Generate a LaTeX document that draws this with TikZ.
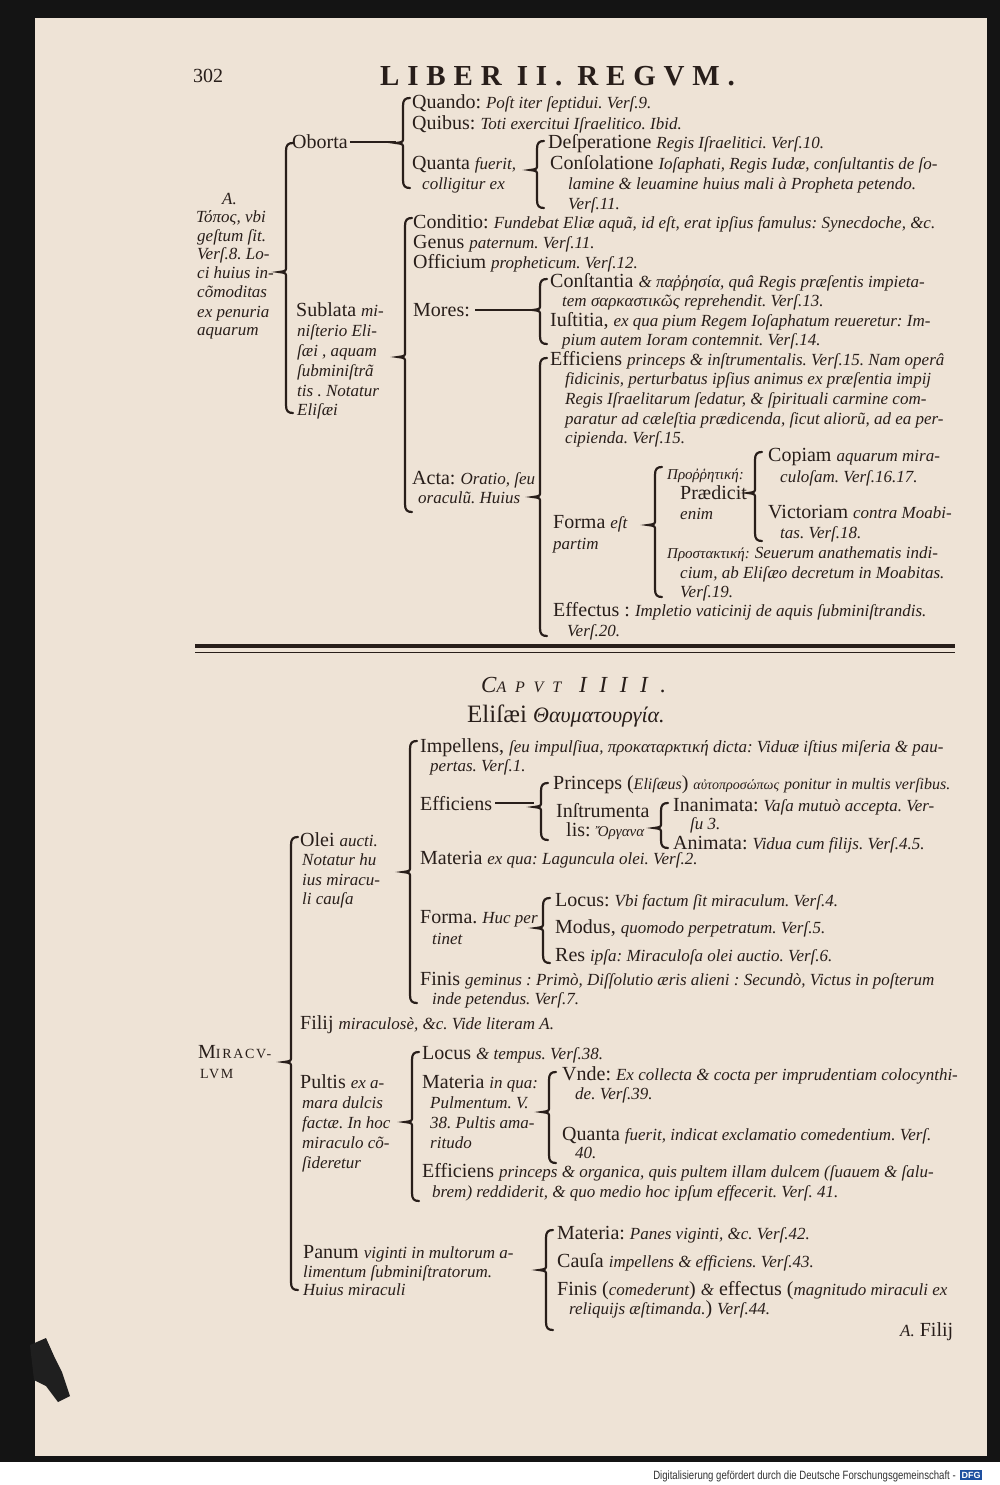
\documentclass[tikz,border=0pt]{standalone}
\usepackage{fontspec}
\setmainfont{Liberation Serif}
\newfontfamily\sansf{Liberation Sans}
\usepackage{graphicx}
\definecolor{paper}{RGB}{238,227,214}
\definecolor{ink}{RGB}{40,30,26}
\definecolor{dfgblue}{RGB}{30,80,160}
\tikzset{
  txt/.style={anchor=base west, inner sep=0pt, text=ink, font=\fontsize{20}{22}\selectfont},
  brc/.style={draw=ink, line width=2.2pt, line cap=round},
  dashl/.style={draw=ink, line width=2pt}
}
\newcommand\itx[1]{{\fontsize{17}{20}\selectfont\itshape #1}}
\newcommand\tline[4]{\node[txt] (#1) at (#2,#3+6) {#4};}
\newcommand\bracefig[5]{%
  \draw[brc] (#2+7,#3) .. controls (#2+2,#3) and (#2,#3+2) .. (#2,#3+8) -- (#2,#4-5) .. controls (#2,#4-1) .. (#2-7,#4) .. controls (#2,#4+1) .. (#2,#4+5) -- (#2,#5-8) .. controls (#2,#5-2) and (#2+2,#5) .. (#2+7,#5);
  \coordinate (#1) at (#2-7,#4);}
\frenchspacing
\begin{document}
\frenchspacing
\begin{tikzpicture}[x=1pt,y=-1pt]
\useasboundingbox (0,0) rectangle (1000,1485);
% page
\fill[black!92] (0,0) rectangle (1000,1462);
\fill[white] (0,1462) rectangle (1000,1485);
\fill[paper] (35,18) rectangle (987,1456);
\fill[black!88] (30,1345) -- (46,1338) -- (54,1356) -- (62,1372) -- (70,1396) -- (58,1402) -- (46,1386) -- (34,1380) -- cycle;

% header
\tline{p302}{193}{77}{302}
\node[txt, font=\fontsize{29}{30}\selectfont\bfseries] (hdr) at (380,86) {\addfontfeature{LetterSpace=27}LIBER II. REGVM.};

% ---------- top section ----------
\tline{quando}{412}{103}{Quando: \itx{Poſt iter ſeptidui. Verſ.9.}}
\tline{quibus}{412}{123}{Quibus: \itx{Toti exercitui Iſraelitico. Ibid.}}
\tline{oborta}{292}{143}{Oborta}
\bracefig{bq}{403}{98}{143}{188}
\draw[dashl] ([xshift=2pt]oborta.east) -- (oborta.east -| bq);
\tline{desp}{548}{143}{Deſperatione \itx{Regis Iſraelitici. Verſ.10.}}
\tline{quanta}{412}{163}{Quanta \itx{fuerit,}}
\tline{consol}{550}{163}{Conſolatione \itx{Ioſaphati, Regis Iudæ, conſultantis de ſo-}}
\tline{collig}{422}{183}{\itx{colligitur ex}}
\tline{lamine}{568}{183}{\itx{lamine \& leuamine huius mali à Propheta petendo.}}
\tline{v11}{568}{203}{\itx{Verſ.11.}}
\bracefig{bd}{537}{141}{170}{208}

\tline{la}{222}{198}{\itx{A.}}
\tline{lb}{196}{216}{\itx{Τόπος, vbi}}
\tline{lc}{197}{235}{\itx{geſtum ſit.}}
\tline{ld}{197}{253}{\itx{Verſ.8. Lo-}}
\tline{le}{197}{272}{\itx{ci huius in-}}
\tline{lf}{197}{291}{\itx{cõmoditas}}
\tline{lg}{197}{311}{\itx{ex penuria}}
\tline{lh}{197}{329}{\itx{aquarum}}
\bracefig{ba}{286}{143}{272}{413}

\tline{sub1}{296}{310}{Sublata \itx{mi-}}
\tline{sub2}{297}{330}{\itx{niſterio Eli-}}
\tline{sub3}{297}{350}{\itx{ſæi , aquam}}
\tline{sub4}{297}{370}{\itx{ſubminiſtrã}}
\tline{sub5}{297}{390}{\itx{tis . Notatur}}
\tline{sub6}{297}{409}{\itx{Eliſæi}}
\bracefig{bs}{405}{218}{357}{512}

\tline{cond}{413}{222}{Conditio: \itx{Fundebat Eliæ aquã, id eſt, erat ipſius famulus: Synecdoche, \&c.}}
\tline{genus}{413}{242}{Genus \itx{paternum. Verſ.11.}}
\tline{offic}{413}{262}{Officium \itx{propheticum. Verſ.12.}}
\tline{mores}{413}{310}{Mores:}
\bracefig{bm}{540}{279}{310}{344}
\draw[dashl] ([xshift=5pt]mores.east) -- (mores.east -| bm);
\tline{const1}{550}{281}{Conſtantia \itx{\& παῤῥησία, quâ Regis præſentis impieta-}}
\tline{const2}{562}{300}{\itx{tem σαρκαστικῶς reprehendit. Verſ.13.}}
\tline{iust1}{550}{320}{Iuſtitia, \itx{ex qua pium Regem Ioſaphatum reueretur: Im-}}
\tline{iust2}{562}{339}{\itx{pium autem Ioram contemnit. Verſ.14.}}

\tline{acta1}{412}{478}{Acta: \itx{Oratio, ſeu}}
\tline{acta2}{418}{497}{\itx{oraculũ. Huius}}
\bracefig{bac}{540}{358}{497}{636}
\tline{eff1}{550}{359}{Efficiens \itx{princeps \& inſtrumentalis. Verſ.15. Nam operâ}}
\tline{eff2}{565}{378}{\itx{fidicinis, perturbatus ipſius animus ex præſentia impij}}
\tline{eff3}{565}{398}{\itx{Regis Iſraelitarum ſedatur, \& ſpirituali carmine com-}}
\tline{eff4}{565}{418}{\itx{paratur ad cæleſtia prædicenda, ſicut aliorũ, ad ea per-}}
\tline{eff5}{565}{437}{\itx{cipienda. Verſ.15.}}
\tline{forma1}{553}{522}{Forma \itx{eſt}}
\tline{forma2}{553}{543}{\itx{partim}}
\bracefig{bf}{655}{467}{525}{597}
\tline{pro1}{667}{473}{{\fontsize{15}{18}\selectfont\itshape Προῤῥητική:}}
\tline{pro2}{680}{493}{Prædicit}
\tline{pro3}{680}{513}{\itx{enim}}
\bracefig{bp}{755}{452}{493}{541}
\tline{cop1}{768}{455}{Copiam \itx{aquarum mira-}}
\tline{cop2}{780}{476}{\itx{culoſam. Verſ.16.17.}}
\tline{vic1}{768}{512}{Victoriam \itx{contra Moabi-}}
\tline{vic2}{780}{532}{\itx{tas. Verſ.18.}}
\tline{pros1}{667}{552}{{\fontsize{15}{18}\selectfont\itshape Προστακτική:} \itx{Seuerum anathematis indi-}}
\tline{pros2}{680}{572}{\itx{cium, ab Eliſæo decretum in Moabitas.}}
\tline{pros3}{680}{591}{\itx{Verſ.19.}}
\tline{effc1}{553}{610}{Effectus : \itx{Impletio vaticinij de aquis ſubminiſtrandis.}}
\tline{effc2}{567}{630}{\itx{Verſ.20.}}

% rules
\coordinate (r1a) at (195,646); \coordinate (r1b) at (955,646);
\coordinate (r2a) at (195,652); \coordinate (r2b) at (955,652);
\draw[ink, line width=3.2pt] (r1a) -- (r1b);
\draw[ink, line width=1pt] (r2a) -- (r2b);

% ---------- bottom section ----------
\node[txt, font=\fontsize{23}{24}\selectfont\itshape] (caput) at (481,692) {\addfontfeature{LetterSpace=55}C{\fontsize{16}{16}\selectfont APVT}\hspace{18pt}IIII.};
\node[txt, font=\fontsize{25}{26}\selectfont] (elis) at (467,722) {Eliſæi {\fontsize{22}{24}\selectfont\itshape Θαυματουργία.}};

\tline{imp1}{420}{746}{Impellens, \itx{ſeu impulſiua, προκαταρκτική dicta: Viduæ iſtius miſeria \& pau-}}
\tline{imp2}{430}{765}{\itx{pertas. Verſ.1.}}
\tline{effi}{420}{804}{Efficiens}
\bracefig{be}{541}{783}{807}{840}
\draw[dashl] ([xshift=3pt]effi.east) -- (effi.east -| be);
\tline{princ}{553}{783}{Princeps ({\fontsize{16}{18}\selectfont\itshape Eliſæus}) {\fontsize{14}{18}\selectfont\itshape αὐτοπροσώπως} {\fontsize{16}{18}\selectfont\itshape ponitur in multis verſibus.}}
\tline{instr1}{556}{811}{Inſtrumenta}
\tline{instr2}{566}{830}{lis: {\fontsize{15}{18}\selectfont\itshape Ὄργανα}}
\bracefig{bi}{661}{803}{828}{848}
\tline{inan1}{673}{805}{Inanimata: \itx{Vaſa mutuò accepta. Ver-}}
\tline{inan2}{690}{823}{\itx{ſu 3.}}
\tline{anim}{673}{843}{Animata: \itx{Vidua cum filijs. Verſ.4.5.}}

\tline{olei1}{300}{840}{Olei \itx{aucti.}}
\tline{olei2}{302}{859}{\itx{Notatur hu}}
\tline{olei3}{302}{879}{\itx{ius miracu-}}
\tline{olei4}{302}{898}{\itx{li cauſa}}
\bracefig{bo}{410}{741}{872}{1003}
\tline{mater}{420}{858}{Materia \itx{ex qua: Laguncula olei. Verſ.2.}}
\tline{form1}{420}{917}{Forma. \itx{Huc per}}
\tline{form2}{432}{938}{\itx{tinet}}
\bracefig{bfo}{543}{898}{928}{963}
\tline{locus}{555}{900}{Locus: \itx{Vbi factum ſit miraculum. Verſ.4.}}
\tline{modus}{555}{927}{Modus, \itx{quomodo perpetratum. Verſ.5.}}
\tline{res}{555}{955}{Res \itx{ipſa: Miraculoſa olei auctio. Verſ.6.}}
\tline{finis1}{420}{979}{Finis \itx{geminus : Primò, Diſſolutio æris alieni : Secundò, Victus in poſterum}}
\tline{finis2}{432}{998}{\itx{inde petendus. Verſ.7.}}
\tline{filij}{300}{1023}{Filij \itx{miraculosè, \&c. Vide literam A.}}

\node[txt] (mir1) at (198,1058) {\addfontfeature{LetterSpace=12}M{\fontsize{14}{14}\selectfont IRACV-}};
\node[txt, font=\fontsize{14}{14}\selectfont] (mir2) at (200,1078) {\addfontfeature{LetterSpace=12}LVM};
\bracefig{bmir}{291}{837}{1062}{1290}

\tline{pul1}{300}{1082}{Pultis \itx{ex a-}}
\tline{pul2}{302}{1102}{\itx{mara dulcis}}
\tline{pul3}{302}{1122}{\itx{factæ. In hoc}}
\tline{pul4}{302}{1142}{\itx{miraculo cõ-}}
\tline{pul5}{302}{1162}{\itx{ſideretur}}
\bracefig{bpu}{412}{1052}{1122}{1201}
\tline{loct}{422}{1053}{Locus \itx{\& tempus. Verſ.38.}}
\tline{mq1}{422}{1082}{Materia \itx{in qua:}}
\tline{mq2}{430}{1102}{\itx{Pulmentum. V.}}
\tline{mq3}{430}{1122}{\itx{38. Pultis ama-}}
\tline{mq4}{430}{1142}{\itx{ritudo}}
\bracefig{bmq}{549}{1072}{1112}{1163}
\tline{vnde1}{562}{1074}{Vnde: \itx{Ex collecta \& cocta per imprudentiam colocynthi-}}
\tline{vnde2}{575}{1093}{\itx{de. Verſ.39.}}
\tline{qf1}{562}{1134}{Quanta \itx{fuerit, indicat exclamatio comedentium. Verſ.}}
\tline{qf2}{575}{1152}{\itx{40.}}
\tline{efo1}{422}{1171}{Efficiens \itx{princeps \& organica, quis pultem illam dulcem (ſuauem \& ſalu-}}
\tline{efo2}{432}{1191}{\itx{brem) reddiderit, \& quo medio hoc ipſum effecerit. Verſ. 41.}}

\tline{pan1}{303}{1252}{Panum \itx{viginti in multorum a-}}
\tline{pan2}{303}{1271}{\itx{limentum ſubminiſtratorum.}}
\tline{pan3}{303}{1289}{\itx{Huius miraculi}}
\bracefig{bpa}{546}{1230}{1270}{1330}
\tline{pm}{557}{1233}{Materia: \itx{Panes viginti, \&c. Verſ.42.}}
\tline{pc}{557}{1261}{Cauſa \itx{impellens \& efficiens. Verſ.43.}}
\tline{pf1}{557}{1289}{Finis (\itx{comederunt}) \itx{\&} effectus (\itx{magnitudo miraculi ex}}
\tline{pf2}{569}{1308}{\itx{reliquijs æſtimanda.}) \itx{Verſ.44.}}
\tline{afilij}{900}{1330}{\itx{A.} Filij}

% footer
\node[anchor=base east, inner sep=0pt, text=black!80, font=\sansf\fontsize{12}{12}\selectfont] (foot) at (956,1479) {\scalebox{0.8}[1]{Digitalisierung gefördert durch die Deutsche Forschungsgemeinschaft -}};
\node[anchor=west, fill=dfgblue, text=white, inner sep=1.5pt, font=\sansf\bfseries\fontsize{9}{9}\selectfont] (dfg) at (960,1475) {DFG};
\end{tikzpicture}
\end{document}
